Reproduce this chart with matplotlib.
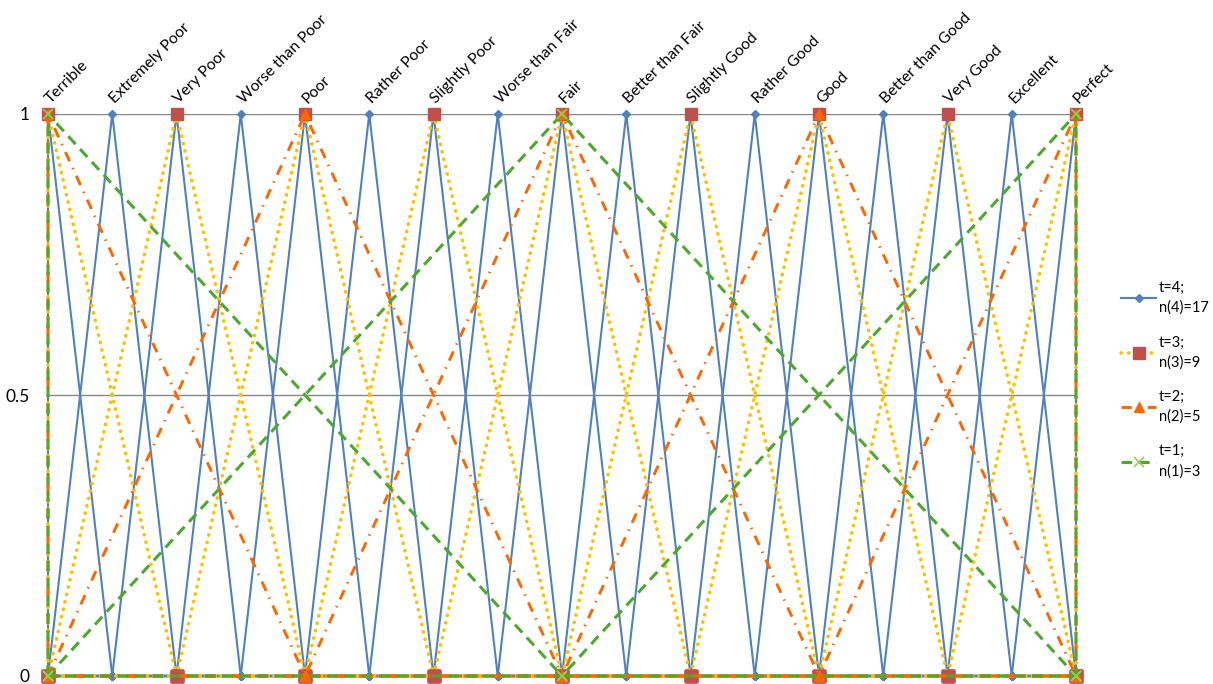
import numpy as np
import matplotlib.pyplot as plt
from matplotlib.lines import Line2D

plt.rcParams['font.family'] = ['Lato', 'DejaVu Sans']

categories = ['Terrible', 'Extremely Poor', 'Very Poor', 'Worse than Poor', 'Poor',
              'Rather Poor', 'Slightly Poor', 'Worse than Fair', 'Fair', 'Better than Fair',
              'Slightly Good', 'Rather Good', 'Good', 'Better than Good', 'Very Good',
              'Excellent', 'Perfect']
t_levels = [4, 3, 2, 1]
n_terms = [17, 9, 5, 3]
y_ticks = [0, 0.5, 1]
y_ticklabels = ['0', '0.5', '1']

# style per t level
styles = {
    4: dict(color='#4F81BD', ls='-', lw=1.5, marker='D', ms=4.5, mfc='#4F81BD', mec='#4F81BD'),
    3: dict(color='#FFC000', ls=(0, (0.1, 2.0)), lw=2.6, dash_capstyle='round',
            marker='s', ms=8, mfc='#C0504D', mec='#C0504D'),
    2: dict(color='#FF6600', ls=(0, (3.5, 2.5, 0.5, 2.5)), lw=2.1,
            marker='^', ms=7, mfc='#FF6600', mec='#FF6600'),
    1: dict(color='#4EA72E', ls=(0, (3.5, 2.2)), lw=2.2,
            marker='x', ms=7, mfc='#92D050', mec='#92D050', mew=1.2),
}

W, H = 1213, 684
fig = plt.figure(figsize=(W / 100, H / 100), dpi=100)
ax = fig.add_axes([48 / W, 8 / H, 1028 / W, 562 / H])

last = len(categories) - 1
for t, n in zip(t_levels, n_terms):
    grid = np.linspace(0, last, n)
    for k in range(n):
        x = list(grid)
        y = [0.0] * n
        y[k] = 1.0
        # shoulders at both ends go straight down to 0
        if k == 0:
            x = [0.0] + x
            y = [0.0] + y
        if k == n - 1:
            x = x + [float(last)]
            y = y + [0.0]
        ax.plot(x, y, clip_on=False, zorder=3, **styles[t])

ax.set_xlim(0, last)
ax.set_ylim(0, 1)
for s in ax.spines.values():
    s.set_visible(False)

ax.set_yticks(y_ticks)
ax.set_yticklabels(y_ticklabels, fontsize=12.5)
ax.yaxis.grid(True, color='#868686', lw=1)
ax.set_axisbelow(True)
ax.tick_params(axis='y', length=0, pad=13)

ax.xaxis.tick_top()
ax.set_xticks(range(len(categories)))
ax.set_xticklabels(categories, rotation=45, ha='left', va='center',
                   rotation_mode='anchor', fontsize=11.3)
ax.tick_params(axis='x', length=0, pad=9)

handles = [Line2D([], [], **styles[t]) for t in t_levels]
labels = ['t=%d;\nn(%d)=%d' % (t, t, n) for t, n in zip(t_levels, n_terms)]
leg = fig.legend(handles, labels, loc='upper left', bbox_to_anchor=(1121 / W, 1 - 281 / H),
                 frameon=False, fontsize=10.5, handlelength=2.4, handletextpad=0.2,
                 labelspacing=1.4, borderpad=0, borderaxespad=0)
for txt in leg.get_texts():
    txt.set_linespacing(1.5)

fig.savefig('out.png', dpi=100)
